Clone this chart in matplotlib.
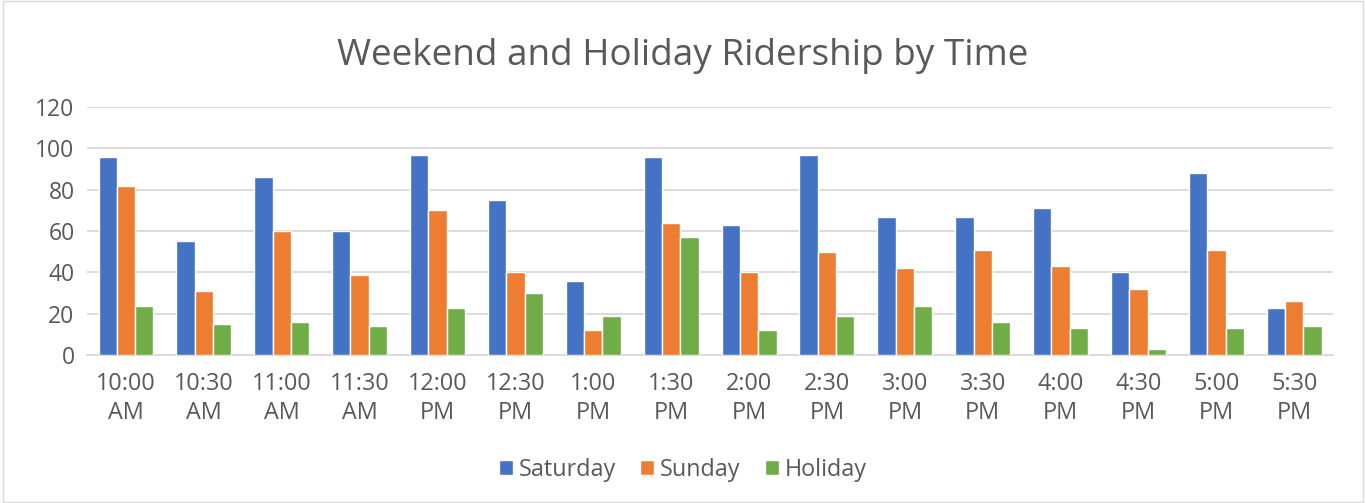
import numpy as np
import matplotlib.pyplot as plt
from matplotlib.patches import Rectangle

times = ["10:00\nAM", "10:30\nAM", "11:00\nAM", "11:30\nAM", "12:00\nPM", "12:30\nPM",
         "1:00\nPM", "1:30\nPM", "2:00\nPM", "2:30\nPM", "3:00\nPM", "3:30\nPM",
         "4:00\nPM", "4:30\nPM", "5:00\nPM", "5:30\nPM"]
saturday = [96, 55, 86, 60, 97, 75, 36, 96, 63, 97, 67, 67, 71, 40, 88, 23]
sunday = [82, 31, 60, 39, 70, 40, 12, 64, 40, 50, 42, 51, 43, 32, 51, 26]
holiday = [24, 15, 16, 14, 23, 30, 19, 57, 12, 19, 24, 16, 13, 3, 13, 14]
yticks = [0, 20, 40, 60, 80, 100, 120]

plt.rcParams['font.family'] = ['Open Sans', 'DejaVu Sans']
txt = "#595959"

fig = plt.figure(figsize=(13.66, 5.03), dpi=100)
ax = fig.add_axes([0.0637, 0.294, 0.9123, 0.493])

x = np.arange(len(times))
w = 0.235
series = [("Saturday", saturday, "#4472C4"),
          ("Sunday", sunday, "#ED7D31"),
          ("Holiday", holiday, "#70AD47")]
for i, (name, vals, col) in enumerate(series):
    ax.bar(x + (i - 1) * w, vals, w, color=col, edgecolor="white", linewidth=1, label=name, zorder=3)

ax.set_xlim(-0.5, len(times) - 0.5)
ax.set_ylim(0, 120)
ax.set_yticks(yticks)
ax.set_xticks(x)
ax.set_xticklabels(times, fontsize=16.8, color=txt, linespacing=1.3)
ax.tick_params(axis="y", labelsize=16.5, labelcolor=txt, length=0, pad=9)
ax.tick_params(axis="x", length=0, pad=12)
ax.grid(axis="y", color="#D9D9D9", linewidth=1.3, zorder=0)
for s in ["top", "right", "left"]:
    ax.spines[s].set_visible(False)
ax.spines["bottom"].set_color("#D9D9D9")
ax.spines["bottom"].set_linewidth(1.3)

fig.text(0.5, 0.888, "Weekend and Holiday Ridership by Time", ha="center", va="center",
         fontsize=26.6, color=txt)

fig.legend(loc="center", bbox_to_anchor=(0.5, 0.066), ncol=3, frameon=False,
           fontsize=16.8, labelcolor=txt, handlelength=0.6, handleheight=0.6,
           handletextpad=0.25, columnspacing=1.05)

fig.patches.append(Rectangle((0.002, 0.002), 0.996, 0.996, transform=fig.transFigure,
                             fill=False, edgecolor="#D9D9D9", linewidth=1))

fig.savefig("out.png", dpi=100)
